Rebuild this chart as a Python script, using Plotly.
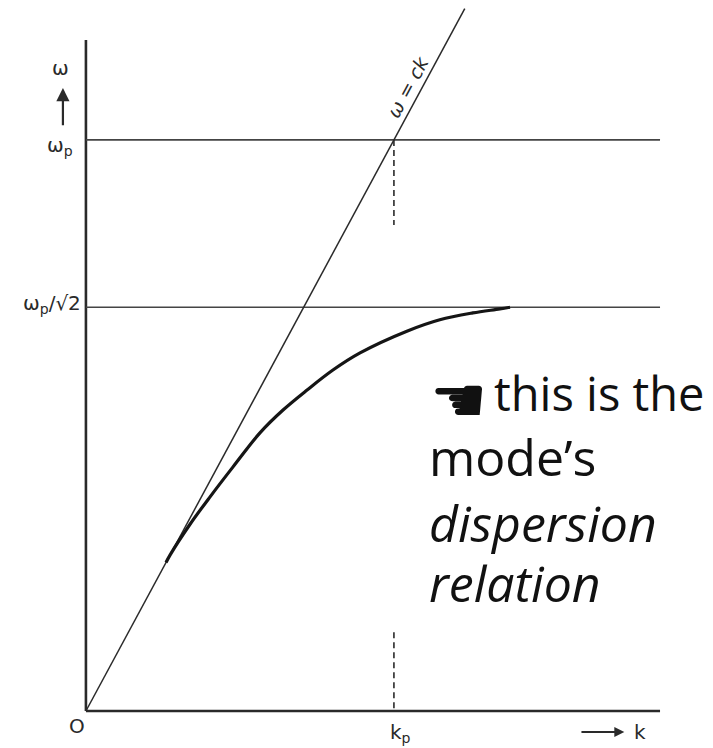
import plotly.graph_objects as go

# Units: k in k_p, omega in omega_p (light line omega = c k passes through (1, 1))
k_max = 1.864
w_max = 1.175
w_asym = 0.707          # omega_p / sqrt(2)
light_end = 1.23

# Surface-mode dispersion curve
curve_k = [0.26, 0.273, 0.338, 0.403, 0.477, 0.565, 0.640, 0.718, 0.802, 0.890,
           1.042, 1.149, 1.256, 1.344, 1.377]
curve_w = [0.26, 0.273, 0.327, 0.375, 0.427, 0.487, 0.527, 0.562, 0.597, 0.627,
           0.665, 0.685, 0.697, 0.704, 0.707]

ink = "#2a2a2a"
fig = go.Figure()

def seg(x, y, width=1.5, dash="solid", color=ink, shape="linear"):
    fig.add_trace(go.Scatter(x=x, y=y, mode="lines", hoverinfo="skip",
                             line=dict(color=color, width=width, dash=dash,
                                       shape=shape, smoothing=1.0),
                             showlegend=False))

# axes
seg([0, 0], [0, w_max], width=2.6)
seg([0, k_max], [0, 0], width=2.6)
# omega_p and omega_p/sqrt2 levels
seg([0, k_max], [1, 1], width=1.6, color="#444")
seg([0, k_max], [w_asym, w_asym], width=1.6, color="#444")
# light line
seg([0, light_end], [0, light_end], width=1.5)
# dashed markers at k_p
seg([1, 1], [1, 0.851], width=1.6, dash="6px,4px")
seg([1, 1], [0.138, 0], width=1.6, dash="6px,4px")
# dispersion curve
seg(curve_k, curve_w, width=3.2, color="#151515", shape="spline")

lab = dict(family="DejaVu Sans", size=20, color=ink)
ann = []
def text(x, y, t, xanchor="center", font=lab, angle=0):
    ann.append(dict(x=x, y=y, text=t, showarrow=False, xanchor=xanchor,
                    yanchor="middle", font=font, textangle=angle))

text(-0.084, 1.126, "ω")
text(-0.084, 0.99, "ω<sub>p</sub>")
text(-0.008, 0.712, "ω<sub>p</sub>/√2", xanchor="right")
text(-0.028, -0.026, "O")
text(1.02, -0.038, "k<sub>p</sub>")
text(1.80, -0.036, "k")
text(1.045, 1.092, "ω = ck",
     font=dict(family="DejaVu Sans", size=19, color=ink, style="italic"), angle=-61.7)

# arrows next to omega and k
ann.append(dict(x=-0.0747, y=1.091, ax=-0.0747, ay=1.023, axref="x", ayref="y",
                xref="x", yref="y", showarrow=True, arrowhead=2, arrowsize=1.2,
                arrowwidth=2.2, arrowcolor=ink, text=""))
ann.append(dict(x=1.748, y=-0.037, ax=1.604, ay=-0.037, axref="x", ayref="y",
                xref="x", yref="y", showarrow=True, arrowhead=2, arrowsize=1.0,
                arrowwidth=2.0, arrowcolor=ink, text=""))

# callout text
body = dict(family="Open Sans", size=50, color="#111")
text(1.211, 0.545, "☚", font=dict(family="DejaVu Sans", size=64, color="#111"))
text(1.318, 0.556, "this is the", xanchor="left",
     font=dict(family="Open Sans", size=47, color="#111"))
text(1.108, 0.444, "mode’s", xanchor="left", font=body)
text(1.108, 0.329, "<i>dispersion</i>", xanchor="left", font=body)
text(1.108, 0.224, "<i>relation</i>", xanchor="left", font=body)

fig.update_layout(
    width=713, height=748,
    margin=dict(l=0, r=0, t=0, b=0),
    paper_bgcolor="white", plot_bgcolor="white",
    xaxis=dict(range=[-0.279, 2.036], visible=False, fixedrange=True),
    yaxis=dict(range=[-0.0648, 1.245], visible=False, fixedrange=True),
    annotations=ann,
)

fig.write_html("out.html")
